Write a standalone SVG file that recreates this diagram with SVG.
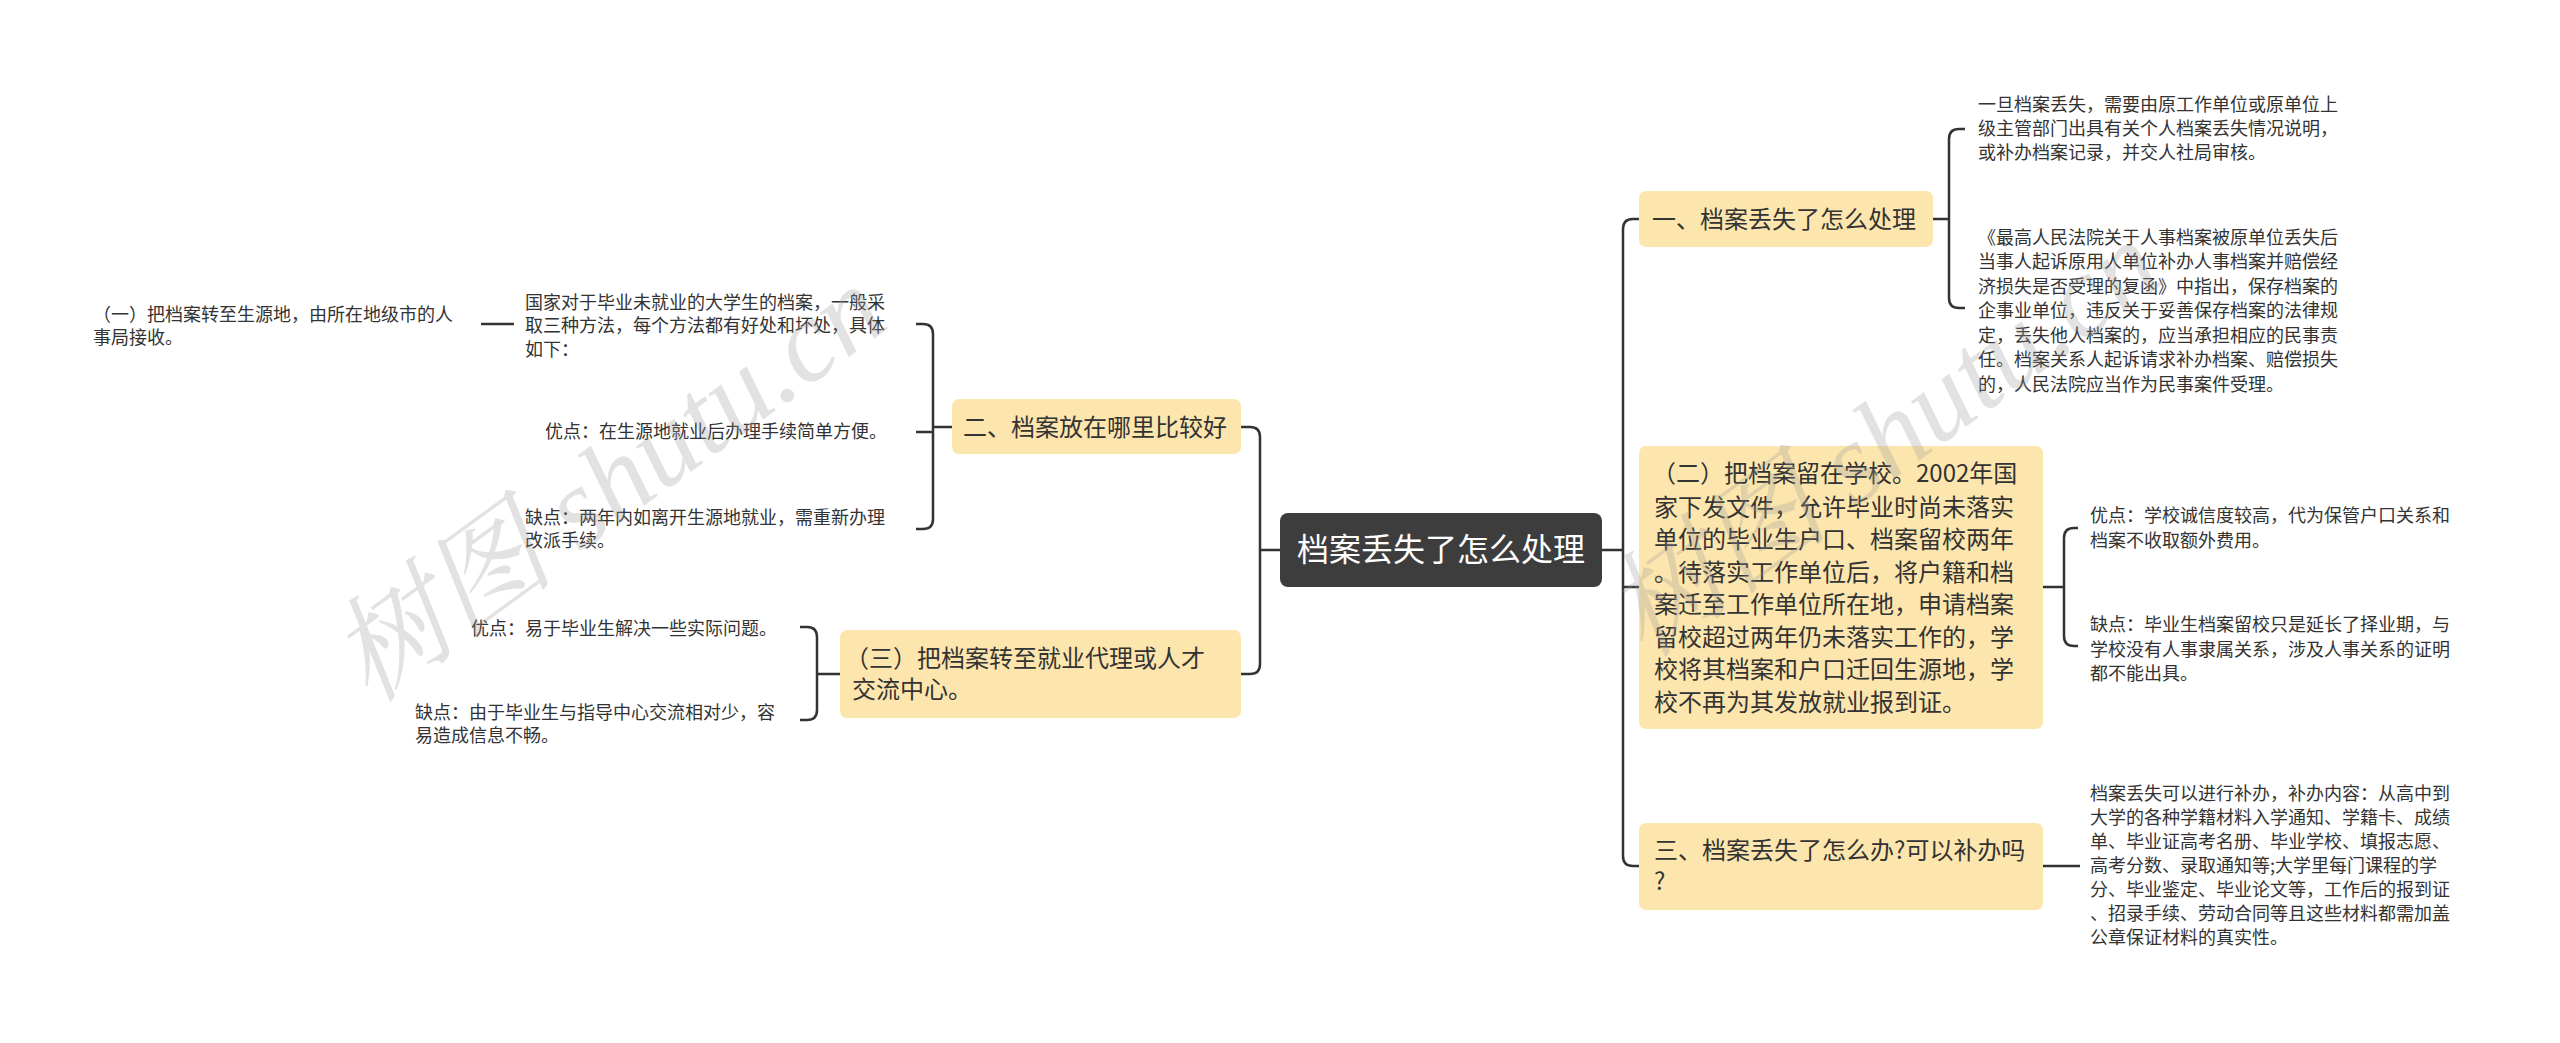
<svg xmlns="http://www.w3.org/2000/svg" width="2560" height="1043" viewBox="0 0 2560 1043">
<style>
text{font-family:"Noto Sans CJK SC","Noto Sans",sans-serif;fill:#333}
.leaf{font-size:18px}
.br{fill:#fde6ae}
.bt{font-size:24px}
.c{fill:none;stroke:#333;stroke-width:2.5}
.wm{font-size:115px;fill:#999;opacity:0.28;font-family:"Liberation Serif","Noto Serif CJK SC",serif;font-style:italic}
</style>
<rect width="2560" height="1043" fill="#fff"/>
<g id="connectors" class="c">
<path d="M1602,550 H1623 M1639,219 H1633 Q1623,219 1623,229 V856 Q1623,866 1633,866 H1639 M1623,587 H1639"/>
<path d="M1933,219 H1949 M1965,129 H1959 Q1949,129 1949,139 V298 Q1949,308 1959,308 H1965"/>
<path d="M2043,587 H2064 M2078,528 H2074 Q2064,528 2064,538 V636 Q2064,646 2074,646 H2078"/>
<path d="M2043,866 H2080"/>
<path d="M1280,550 H1260 M1241,427 H1250 Q1260,427 1260,437 V664 Q1260,674 1250,674 H1241"/>
<path d="M952,427 H933 M916,324 H923 Q933,324 933,334 V519 Q933,529 923,529 H916 M916,432 H933"/>
<path d="M840,674 H817 M800,627 H807 Q817,627 817,637 V710 Q817,720 807,720 H800"/>
<path d="M481,324 H514"/>
</g>
<g id="center"><rect x="1280" y="513" width="322" height="74" rx="8" fill="#3d3d3d"/><text x="1441" y="561" font-size="32" text-anchor="middle" style="fill:#fff">档案丢失了怎么处理</text></g>
<g id="n1"><rect class="br" x="1639" y="191" width="294" height="56" rx="7"/><text class="bt" x="1652" y="228">一、档案丢失了怎么处理</text></g>
<g id="n1a"><text class="leaf" x="1978"><tspan x="1978" y="111">一旦档案丢失，需要由原工作单位或原单位上</tspan><tspan x="1978" y="135">级主管部门出具有关个人档案丢失情况说明，</tspan><tspan x="1978" y="159">或补办档案记录，并交人社局审核。</tspan></text></g>
<g id="n1b"><text class="leaf"><tspan x="1978" y="244">《最高人民法院关于人事档案被原单位丢失后</tspan><tspan x="1978" y="268">当事人起诉原用人单位补办人事档案并赔偿经</tspan><tspan x="1978" y="293">济损失是否受理的复函》中指出，保存档案的</tspan><tspan x="1978" y="317">企事业单位，违反关于妥善保存档案的法律规</tspan><tspan x="1978" y="342">定，丢失他人档案的，应当承担相应的民事责</tspan><tspan x="1978" y="366">任。档案关系人起诉请求补办档案、赔偿损失</tspan><tspan x="1978" y="391">的，人民法院应当作为民事案件受理。</tspan></text></g>
<g id="n2"><rect class="br" x="1639" y="446" width="404" height="283" rx="7"/><text class="bt"><tspan x="1652" y="482">（二）把档案留在学校。2002年国</tspan><tspan x="1654" y="516">家下发文件，允许毕业时尚未落实</tspan><tspan x="1654" y="548">单位的毕业生户口、档案留校两年</tspan><tspan x="1654" y="581">。待落实工作单位后，将户籍和档</tspan><tspan x="1654" y="613">案迁至工作单位所在地，申请档案</tspan><tspan x="1654" y="646">留校超过两年仍未落实工作的，学</tspan><tspan x="1654" y="678">校将其档案和户口迁回生源地，学</tspan><tspan x="1654" y="711">校不再为其发放就业报到证。</tspan></text></g>
<g id="n2a"><text class="leaf"><tspan x="2090" y="522">优点：学校诚信度较高，代为保管户口关系和</tspan><tspan x="2090" y="547">档案不收取额外费用。</tspan></text></g>
<g id="n2b"><text class="leaf"><tspan x="2090" y="631">缺点：毕业生档案留校只是延长了择业期，与</tspan><tspan x="2090" y="656">学校没有人事隶属关系，涉及人事关系的证明</tspan><tspan x="2090" y="680">都不能出具。</tspan></text></g>
<g id="n3"><rect class="br" x="1639" y="823" width="404" height="87" rx="7"/><text class="bt"><tspan x="1654" y="859">三、档案丢失了怎么办?可以补办吗</tspan><tspan x="1654" y="890">?</tspan></text></g>
<g id="n3a"><text class="leaf"><tspan x="2090" y="800">档案丢失可以进行补办，补办内容：从高中到</tspan><tspan x="2090" y="824">大学的各种学籍材料入学通知、学籍卡、成绩</tspan><tspan x="2090" y="848">单、毕业证高考名册、毕业学校、填报志愿、</tspan><tspan x="2090" y="872">高考分数、录取通知等;大学里每门课程的学</tspan><tspan x="2090" y="896">分、毕业鉴定、毕业论文等，工作后的报到证</tspan><tspan x="2090" y="920">、招录手续、劳动合同等且这些材料都需加盖</tspan><tspan x="2090" y="944">公章保证材料的真实性。</tspan></text></g>
<g id="l1"><rect class="br" x="952" y="399" width="289" height="55" rx="7"/><text class="bt" x="963" y="436">二、档案放在哪里比较好</text></g>
<g id="l1a"><text class="leaf"><tspan x="525" y="309">国家对于毕业未就业的大学生的档案，一般采</tspan><tspan x="525" y="332">取三种方法，每个方法都有好处和坏处，具体</tspan><tspan x="525" y="356">如下：</tspan></text></g>
<g id="l1a0"><text class="leaf"><tspan x="93" y="321">（一）把档案转至生源地，由所在地级市的人</tspan><tspan x="93" y="344">事局接收。</tspan></text></g>
<g id="l1b"><text class="leaf" x="545" y="438">优点：在生源地就业后办理手续简单方便。</text></g>
<g id="l1c"><text class="leaf"><tspan x="525" y="524">缺点：两年内如离开生源地就业，需重新办理</tspan><tspan x="525" y="547">改派手续。</tspan></text></g>
<g id="l2"><rect class="br" x="840" y="630" width="401" height="88" rx="7"/><text class="bt"><tspan x="845" y="667">（三）把档案转至就业代理或人才</tspan><tspan x="852" y="698">交流中心。</tspan></text></g>
<g id="l2a"><text class="leaf" x="471" y="635">优点：易于毕业生解决一些实际问题。</text></g>
<g id="l2b"><text class="leaf"><tspan x="415" y="719">缺点：由于毕业生与指导中心交流相对少，容</tspan><tspan x="415" y="742">易造成信息不畅。</tspan></text></g>
<g id="watermark">
<text class="wm" transform="translate(370,705) rotate(-36)">树图 shutu.cn</text>
<text class="wm" transform="translate(1645,660) rotate(-36)">树图 shutu.cn</text>
</g>
</svg>
